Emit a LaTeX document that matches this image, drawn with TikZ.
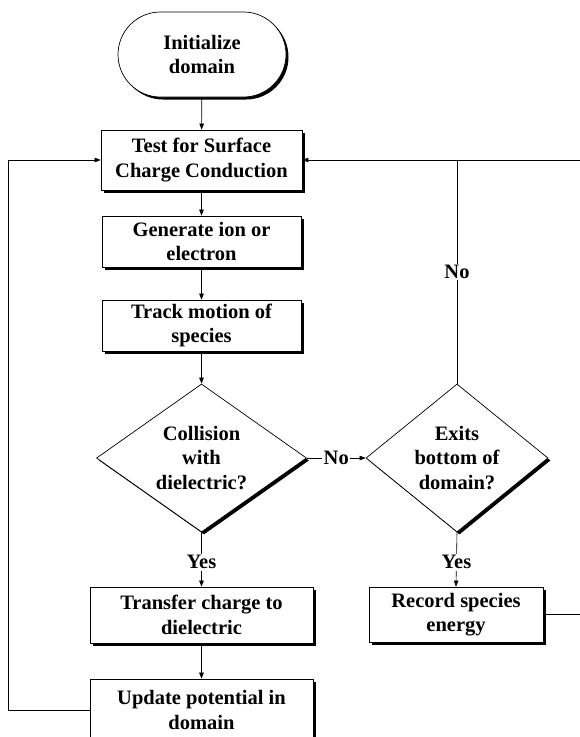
\documentclass[tikz,border=0pt]{standalone}
\usepackage{fontspec}
\setmainfont{Liberation Serif}
\usetikzlibrary{shapes.geometric,shapes.misc,shadows,arrows.meta}
\begin{document}
\begin{tikzpicture}[x=1pt,y=-1pt,
  font=\bfseries\fontsize{20.5}{24.5}\selectfont,
  shad/.style={drop shadow={shadow xshift=2.5pt,shadow yshift=-2.5pt,fill=black,opacity=1}},
  box/.style={draw,line width=0.7pt,fill=white,align=center,inner sep=0pt,shad},
  dia/.style={diamond,draw,line width=0.7pt,fill=white,align=center,inner sep=0pt,aspect=1.4,shad},
  term/.style={rounded rectangle,draw,line width=0.7pt,fill=white,align=center,inner sep=0pt,shad},
  lbl/.style={fill=white,inner sep=1.5pt},
  conn/.style={line width=0.6pt},
  arr/.style={conn,-{Triangle[length=6pt,width=4.5pt]}}]
\useasboundingbox (0,0) rectangle (580,737);
\node[term,minimum width=168pt,minimum height=85pt] (init) at (202,54.5) {Initialize\\domain};
\node[box,minimum width=201pt,minimum height=60pt] (test) at (201.5,160) {Test for Surface\\Charge Conduction};
\node[box,minimum width=199pt,minimum height=51pt] (gen) at (201.5,241.5) {Generate ion or\\electron};
\node[box,minimum width=199pt,minimum height=51pt] (track) at (201.5,325.5) {Track motion of\\species};
\node[dia,minimum width=210pt,minimum height=148pt] (coll) at (201.5,458) {Collision\\with\\dielectric?};
\node[dia,minimum width=182pt,minimum height=148pt] (exits) at (457,458) {Exits\\bottom of\\domain?};
\node[box,minimum width=223pt,minimum height=56pt] (transfer) at (201.5,615) {Transfer charge to\\dielectric};
\node[box,minimum width=223pt,minimum height=62pt] (update) at (201.5,710) {Update potential in\\domain};
\node[box,minimum width=174pt,minimum height=55pt] (record) at (456,614.5) {Record species\\energy};
\coordinate (lc) at (8,710);
\coordinate (rtop) at (580,160);
\coordinate (rbot) at (580,614.5);
\draw[arr] (init) -- (test);
\draw[arr] (test) -- (gen);
\draw[arr] (gen) -- (track);
\draw[arr] (track) -- (coll);
\draw[arr] (coll.east) -- node[lbl] (no1) {No} (exits.west);
\draw[arr] (coll.south) -- node[lbl,pos=0.55] (yes1) {Yes} (transfer.north);
\draw[arr] (exits.south) -- node[lbl,pos=0.55] (yes2) {Yes} (record.north);
\draw[arr] (transfer) -- (update);
\draw[arr] (update.west) -- (lc) |- (test.west);
\draw[arr] (rtop) -- (test.east);
\draw[conn] (exits.north) -- node[lbl] (no2) {No} (exits.north |- test.east);
\draw[conn] (record.east) -- (rbot);
\end{tikzpicture}
\end{document}
